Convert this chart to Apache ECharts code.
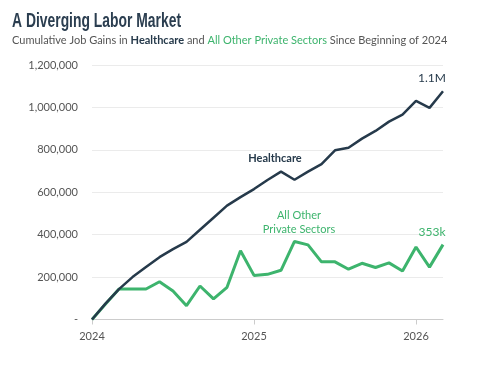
<!DOCTYPE html>
<html><head><meta charset="utf-8">
<script src="https://cdn.jsdelivr.net/npm/echarts@6/dist/echarts.min.js"></script>
<style>html,body{margin:0;padding:0;background:#fff}#c{width:483px;height:366px}</style>
</head><body><div id="c"></div>
<script>
const months = ['2024-01','2024-02','2024-03','2024-04','2024-05','2024-06','2024-07','2024-08','2024-09','2024-10','2024-11','2024-12',
'2025-01','2025-02','2025-03','2025-04','2025-05','2025-06','2025-07','2025-08','2025-09','2025-10','2025-11','2025-12',
'2026-01','2026-02','2026-03'];
const healthcare = [0,75000,143000,200000,247000,294000,332000,366000,423000,480000,537000,577000,
615000,658000,697000,659000,697000,733000,798000,810000,853000,889000,933000,966000,1031000,998000,1076000];
const otherPrivate = [0,73000,144000,144000,144000,178000,134000,65000,158000,97000,152000,324000,
208000,213000,232000,368000,352000,272000,272000,237000,265000,245000,267000,229000,342000,247000,353000];
const yTicks = [0,200000,400000,600000,800000,1000000,1200000];
const endLabels = ['1.1M','353k'];
const titleText = 'A Diverging Labor Market';
const subtitleText = 'Cumulative Job Gains in {h|Healthcare} and {g|All Other Private Sectors} Since Beginning of 2024';

const DARK = '#263a4b', GREEN = '#3db46d', GRAY = '#555';
const FONT = 'Lato';

// condensed look for the title: measure then scale horizontally to the reference width
const TITLE_FONT = 'bold 21px "Liberation Sans"';
const mc = document.createElement('canvas').getContext('2d');
mc.font = TITLE_FONT;
const titleScale = 169 / mc.measureText(titleText).width;

const chart = echarts.init(document.getElementById('c'), null, {renderer:'canvas'});
chart.setOption({
  animation:false,
  grid:{left:92, right:40, top:65, bottom:46.5, containLabel:false},
  xAxis:{
    type:'category', data:months, boundaryGap:false,
    axisLine:{lineStyle:{color:'#cccccc'}},
    axisTick:{show:true, interval:(i)=>i%12===0, length:5, lineStyle:{color:'#cccccc'}},
    axisLabel:{interval:(i)=>i%12===0, formatter:(v)=>v.slice(0,4), color:GRAY, fontFamily:FONT, fontSize:11, margin:11}
  },
  yAxis:{
    type:'value', min:yTicks[0], max:yTicks[yTicks.length-1], interval:200000,
    axisLine:{show:false}, axisTick:{show:false},
    splitLine:{lineStyle:{color:'#ebebeb'}},
    axisLabel:{color:GRAY, fontFamily:FONT, fontSize:11, margin:14,
      formatter:(v)=> v===0 ? '-' : v.toLocaleString('en-US')}
  },
  series:[
    {type:'line', name:'Healthcare', data:healthcare, symbol:'none',
      lineStyle:{color:DARK, width:2.5}, itemStyle:{color:DARK}, z:3,
      endLabel:{show:true, formatter:endLabels[0], color:DARK, fontFamily:FONT, fontSize:12,
        align:'center', verticalAlign:'bottom', distance:0, offset:[-11,-7]}},
    {type:'line', name:'All Other Private Sectors', data:otherPrivate, symbol:'none',
      lineStyle:{color:GREEN, width:3}, itemStyle:{color:GREEN}, z:2,
      endLabel:{show:true, formatter:endLabels[1], color:GREEN, fontFamily:FONT, fontSize:12,
        align:'center', verticalAlign:'bottom', distance:0, offset:[-11,-7]}}
  ],
  graphic:[
    {type:'text', x:12, y:21.5, scaleX:titleScale, style:{text:titleText, fill:'#2b3e50', font:TITLE_FONT, verticalAlign:'middle'}},
    {type:'text', x:12, y:40, style:{text:subtitleText, fill:GRAY, font:'11px '+FONT, verticalAlign:'middle',
      rich:{h:{fontFamily:FONT, fontSize:11, fill:DARK, fontWeight:'bold'}, g:{fontFamily:FONT, fontSize:11, fill:GREEN}}}},
    {type:'text', x:275, y:158, style:{text:'Healthcare', fill:DARK, font:'bold 11px '+FONT, align:'center', verticalAlign:'middle'}},
    {type:'text', x:299, y:222, style:{text:'All Other\nPrivate Sectors', fill:GREEN, font:'11px '+FONT, align:'center', verticalAlign:'middle', lineHeight:14}}
  ]
});
</script></body></html>
